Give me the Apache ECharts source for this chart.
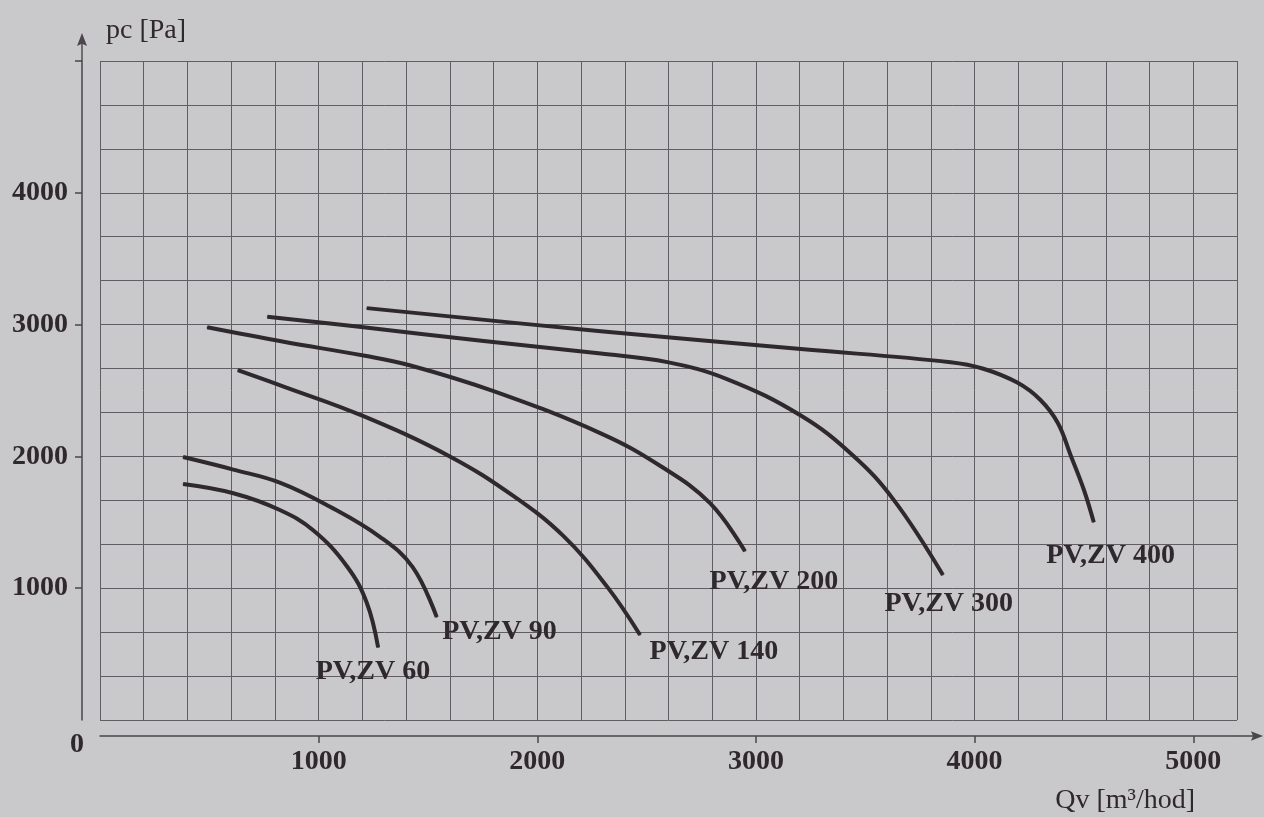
<!DOCTYPE html>
<html>
<head>
<meta charset="utf-8">
<title>PV,ZV</title>
<script src="https://cdn.jsdelivr.net/npm/echarts@6/dist/echarts.min.js"></script>
<style>
  html, body { margin: 0; padding: 0; background: #c9c8ca; }
  #chart { width: 1264px; height: 817px; }
</style>
</head>
<body>
<div id="chart"></div>
<script>
// Qv [m3/hod], pc [Pa]
var pv60 = [[380, 1790], [610, 1720], [820, 1595], [975, 1440], [1130, 1165], [1220, 890], [1272, 550]];
var pv90 = [[380, 1995], [610, 1900], [825, 1800], [1050, 1620], [1280, 1390], [1430, 1160], [1540, 780]];
var pv140 = [[630, 2655], [840, 2530], [1205, 2305], [1600, 2000], [1890, 1700], [2120, 1395], [2320, 1010], [2470, 645]];
var pv200 = [[490, 2980], [840, 2870], [1205, 2765], [1420, 2690], [1800, 2495], [2290, 2175], [2565, 1925], [2790, 1645], [2950, 1280]];
var pv300 = [[765, 3060], [1205, 2980], [1755, 2875], [2290, 2780], [2595, 2715], [2870, 2585], [3205, 2310], [3445, 2005], [3630, 1670], [3855, 1100]];
var pv400 = [[1220, 3125], [2290, 2950], [3205, 2815], [3890, 2715], [4040, 2665], [4195, 2560], [4300, 2430], [4380, 2255], [4440, 2005], [4500, 1745], [4545, 1500]];

var curveNames = ['PV,ZV 60', 'PV,ZV 90', 'PV,ZV 140', 'PV,ZV 200', 'PV,ZV 300', 'PV,ZV 400'];
var xTickValues = [1000, 2000, 3000, 4000, 5000];
var yTickValues = [1000, 2000, 3000, 4000, 5000];
var yLabelValues = [1000, 2000, 3000, 4000];

var curves = [pv60, pv90, pv140, pv200, pv300, pv400];
// where the name sits relative to the curve end (px)
var nameOffsets = [[-62, 11], [6, 1], [10, 3], [-35, 17], [-58, 15], [-47, 20]];

var ink = '#2f292d';
var axisInk = '#4a464b';
var gridInk = '#615e63';
var serif = '"Liberation Serif", "DejaVu Serif", serif';
// line with arrow head, so the axis runs on past the grid
var arrowPath = 'path://M5,0 L10,13 L5.7,11 L5.7,28 L4.3,28 L4.3,11 L0,13 Z';

function plain(v) { return String(v); }

var chart = echarts.init(document.getElementById('chart'));

var series = curves.map(function (pts, k) {
  return {
    name: curveNames[k],
    type: 'line',
    smooth: 0.4,
    symbol: 'circle',
    symbolSize: 1,
    showSymbol: true,
    itemStyle: { color: ink, borderWidth: 0 },
    lineStyle: { color: ink, width: 4, join: 'round' },
    data: pts.map(function (p, i) {
      if (i !== pts.length - 1) return p;
      return {
        value: p,
        label: {
          show: true,
          formatter: curveNames[k],
          position: nameOffsets[k],
          color: ink,
          fontFamily: serif,
          fontWeight: 'bold',
          fontSize: 28
        }
      };
    })
  };
});

chart.setOption({
  backgroundColor: '#c9c8ca',
  animation: false,
  grid: { left: 100, right: 27, top: 61, bottom: 97, outerBoundsMode: 'none', containLabel: false },
  xAxis: [{
    // grid lines every 200
    type: 'value',
    min: 0,
    max: 5200,
    interval: 200,
    axisLine: { show: false },
    axisTick: { show: false },
    axisLabel: { show: false },
    splitLine: { show: true, lineStyle: { color: gridInk, width: 1 } }
  }, {
    // the drawn axis, set off below the grid
    type: 'value',
    position: 'bottom',
    min: 0,
    max: 5200,
    interval: 1000,
    offset: 16,
    name: 'Qv [m³/hod]',
    nameLocation: 'end',
    nameGap: -42,
    nameTextStyle: {
      color: ink, fontFamily: serif, fontSize: 28,
      align: 'right', verticalAlign: 'top', padding: [51, 0, 0, 0]
    },
    axisLine: {
      show: true,
      onZero: false,
      lineStyle: { color: axisInk, width: 1.5 },
      symbol: ['none', arrowPath],
      symbolSize: [11, 26],
      symbolOffset: [0, 13]
    },
    axisTick: { show: true, customValues: xTickValues, length: 7, lineStyle: { color: axisInk, width: 1.5 } },
    axisLabel: {
      customValues: xTickValues,
      formatter: plain,
      margin: 12,
      color: ink, fontFamily: serif, fontWeight: 'bold', fontSize: 28
    },
    splitLine: { show: false }
  }],
  yAxis: [{
    type: 'value',
    min: 0,
    max: 5000,
    interval: 1000,
    axisLine: { show: false },
    axisTick: { show: false },
    axisLabel: { show: false },
    splitLine: { show: true, lineStyle: { color: gridInk, width: 1 } },
    minorTick: { show: false, splitNumber: 3 },
    minorSplitLine: { show: true, lineStyle: { color: gridInk, width: 1 } }
  }, {
    type: 'value',
    position: 'left',
    min: 0,
    max: 5000,
    interval: 1000,
    offset: 18,
    name: 'pc [Pa]',
    nameLocation: 'end',
    nameGap: 30,
    nameTextStyle: {
      color: ink, fontFamily: serif, fontSize: 28,
      align: 'left', verticalAlign: 'middle', padding: [0, 0, 0, 24]
    },
    axisLine: {
      show: true,
      onZero: false,
      lineStyle: { color: axisInk, width: 1.5 },
      symbol: ['none', arrowPath],
      symbolSize: [11, 28],
      symbolOffset: [0, 14]
    },
    axisTick: { show: true, customValues: yTickValues, length: 7, lineStyle: { color: axisInk, width: 1.5 } },
    axisLabel: {
      customValues: yLabelValues,
      formatter: plain,
      margin: 14,
      color: ink, fontFamily: serif, fontWeight: 'bold', fontSize: 28
    },
    splitLine: { show: false }
  }],
  graphic: [{
    type: 'text',
    left: 70,
    top: 731,
    style: { text: '0', fill: ink, font: 'bold 28px ' + serif }
  }],
  series: series
});
</script>
</body>
</html>
